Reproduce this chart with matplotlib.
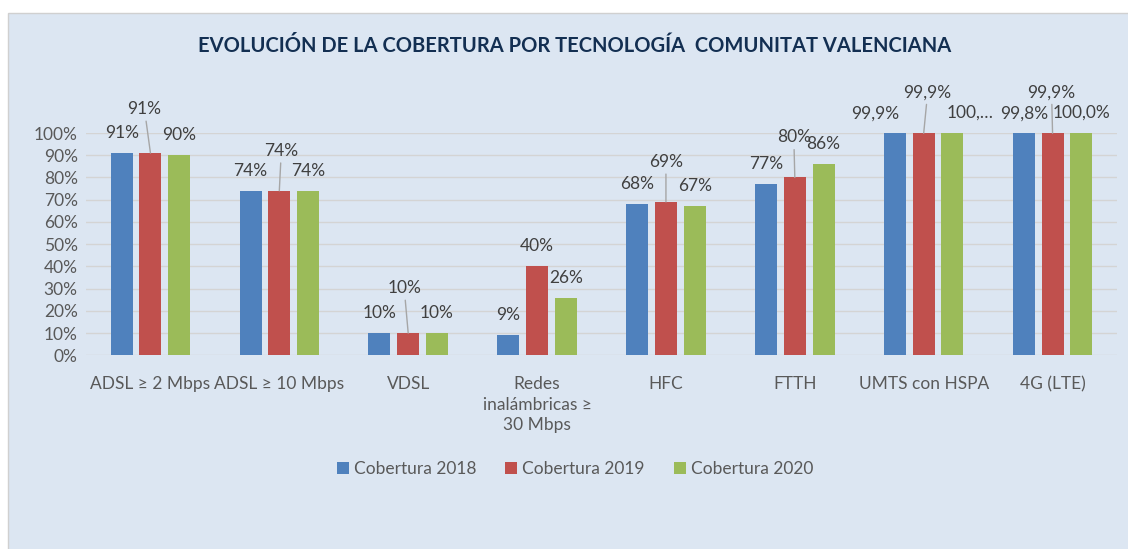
import matplotlib
matplotlib.use("Agg")
import matplotlib.pyplot as plt
from matplotlib.patches import Rectangle
import numpy as np

categories = ["ADSL ≥ 2 Mbps", "ADSL ≥ 10 Mbps", "VDSL", "Redes\ninalámbricas ≥\n30 Mbps",
              "HFC", "FTTH", "UMTS con HSPA", "4G (LTE)"]
series_names = ["Cobertura 2018", "Cobertura 2019", "Cobertura 2020"]
cov_2018 = [91, 74, 10, 9, 68, 77, 99.9, 99.8]
cov_2019 = [91, 74, 10, 40, 69, 80, 99.9, 99.9]
cov_2020 = [90, 74, 10, 26, 67, 86, 100.0, 100.0]
yticks = [0, 10, 20, 30, 40, 50, 60, 70, 80, 90, 100]
ytick_labels = ["0%", "10%", "20%", "30%", "40%", "50%", "60%", "70%", "80%", "90%", "100%"]
title = "EVOLUCIÓN DE LA COBERTURA POR TECNOLOGÍA  COMUNITAT VALENCIANA"

colors = ["#4F81BD", "#C0504D", "#9BBB59"]
bg = "#DCE6F2"
FONT = ["Lato", "DejaVu Sans"]
FS = 12.5

# label offsets in pixels (dx, dy) per series per category
offsets = [
    [(0, 20)] * 6 + [(-20, 20), (0, 20)],
    [(-6, 44), (2, 40), (-4, 45), (0, 20), (0, 40), (-1, 40), (4, 41), (-1, 41)],
    [(0, 20)] * 6 + [(18, 20), (0, 20)],
]
truncated = {(2, 6)}


def fmt(v):
    if v >= 99:
        return f"{v:.1f}".replace(".", ",") + "%"
    return f"{v:.0f}%"


fig = plt.figure(figsize=(11.28, 5.49), dpi=100)
fig.patch.set_facecolor("white")
# chart area
fig.patches.append(Rectangle((8 / 1128, -0.01), 1.2, (549 - 13) / 549 + 0.01,
                             transform=fig.transFigure, facecolor=bg,
                             edgecolor="#D0D0D0", linewidth=1.0, zorder=-5))

ax = fig.add_axes([86 / 1128, (549 - 355.3) / 549, (1117 - 86) / 1128, (355.3 - 133) / 549])
ax.set_zorder(2)
ax.set_facecolor("none")
ax.set_xlim(-0.5, len(categories) - 0.5)
ax.set_ylim(0, 100)

x = np.arange(len(categories))
step = 0.223
width = 0.171
all_series = [cov_2018, cov_2019, cov_2020]
for si, vals in enumerate(all_series):
    pos = x + (si - 1) * step
    ax.bar(pos, vals, width=width, color=colors[si], label=series_names[si], zorder=3)
    for ci, v in enumerate(vals):
        dx, dy = offsets[si][ci]
        txt = fmt(v)
        if (si, ci) in truncated:
            txt = txt.split(",")[0] + ",…"
        leader = dy > 30
        ax.annotate(txt, xy=(pos[ci], v), xytext=(dx, dy), textcoords="offset pixels",
                    ha="center", va="center", fontsize=FS, color="#404040", family=FONT,
                    annotation_clip=False, zorder=5,
                    arrowprops=dict(arrowstyle="-", color="#A6A6A6", lw=1.0,
                                    shrinkA=1, shrinkB=0) if leader else None)

ax.set_yticks(yticks)
ax.set_yticklabels(ytick_labels)
ax.set_xticks(x)
ax.set_xticklabels(categories, linespacing=1.35)
ax.grid(axis="y", color="#D4D4D4", linewidth=1.0, zorder=0)
ax.set_axisbelow(True)
for s in ax.spines.values():
    s.set_visible(False)
ax.tick_params(axis="both", length=0, colors="#595959", labelsize=FS)
ax.tick_params(axis="x", pad=15)
ax.tick_params(axis="y", pad=6)
for lab in ax.get_xticklabels() + ax.get_yticklabels():
    lab.set_family(FONT)
    lab.set_color("#595959")

fig.text(575 / 1128, 1 - 46 / 549, title, ha="center", va="center", fontsize=14.5,
         fontweight="bold", color="#132F52", family=FONT)

leg = fig.legend(loc="center", bbox_to_anchor=(575 / 1128, 1 - 469 / 549), ncol=3,
                 frameon=False, prop={"family": FONT, "size": FS},
                 handlelength=0.7, handleheight=0.7, handletextpad=0.3, columnspacing=1.65)
for t in leg.get_texts():
    t.set_color("#595959")

fig.savefig("out.png", dpi=100, facecolor=fig.get_facecolor())
